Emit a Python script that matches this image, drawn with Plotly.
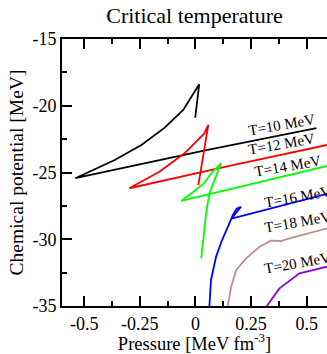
import plotly.graph_objects as go

# ---- data (pressure [MeV fm^-3], chemical potential [MeV]) ----
t10_p = [-0.001, 0.017, -0.055, -0.138, -0.243, -0.363, -0.540, 0.049, 0.544]
t10_mu = [-20.90, -18.39, -20.32, -21.64, -22.94, -24.06, -25.43, -23.33, -21.67]

t12_p = [0.013, 0.058, 0.040, -0.049, -0.162, -0.289, -0.297, 0.153, 0.592]
t12_mu = [-25.94, -21.44, -22.07, -23.56, -24.94, -26.06, -26.18, -24.50, -22.94]

t14_p = [0.026, 0.048, 0.063, 0.115, 0.072, 0.038, -0.004, -0.064, 0.592]
t14_mu = [-31.43, -28.06, -26.56, -24.31, -25.04, -25.82, -26.39, -27.13, -24.51]

t16_p = [0.063, 0.070, 0.093, 0.120, 0.150, 0.168, 0.185, 0.205, 0.163, 0.592]
t16_mu = [-35.00, -33.05, -31.30, -30.06, -28.90, -28.20, -27.72, -27.57, -28.45, -26.60]

t18_p = [0.145, 0.161, 0.183, 0.228, 0.288, 0.340, 0.385, 0.423, 0.592]
t18_mu = [-35.00, -33.55, -32.30, -31.43, -30.56, -30.10, -30.13, -29.93, -29.18]

t20_p = [0.321, 0.378, 0.468, 0.592]
t20_mu = [-35.00, -33.68, -32.55, -32.06]

labels = ["T=10 MeV", "T=12 MeV", "T=14 MeV", "T=16 MeV", "T=18 MeV", "T=20 MeV"]
label_p = [0.385, 0.387, 0.415, 0.457, 0.459, 0.459]
label_mu = [-21.44, -22.90, -24.49, -26.81, -28.68, -31.80]

colors = ["#000000", "#ff0000", "#00ff00", "#0000ff", "#bc8f8f", "#9400d3"]

x_tickvals = [-0.5, -0.25, 0, 0.25, 0.5]
x_ticktext = ["-0.5", "-0.25", "0", "0.25", "0.5"]
y_tickvals = [-35, -30, -25, -20, -15]
y_ticktext = ["-35", "-30", "-25", "-20", "-15"]

FONT = "Liberation Serif, Times New Roman, serif"

series = [(t10_p, t10_mu), (t12_p, t12_mu), (t14_p, t14_mu),
          (t16_p, t16_mu), (t18_p, t18_mu), (t20_p, t20_mu)]

fig = go.Figure()
for (px, py), c in zip(series, colors):
    fig.add_trace(go.Scatter(x=px, y=py, mode="lines",
                             line=dict(color=c, width=1.8),
                             showlegend=False, hoverinfo="skip"))

for txt, lx, ly in zip(labels, label_p, label_mu):
    fig.add_annotation(x=lx, y=ly, text=txt, showarrow=False, textangle=-10,
                       font=dict(family=FONT, size=15, color="black"),
                       xanchor="center", yanchor="middle")

fig.update_layout(
    width=327, height=354,
    margin=dict(l=62, r=0, t=39, b=48),
    paper_bgcolor="white", plot_bgcolor="white",
    font=dict(family=FONT, color="black"),
    title=dict(text="Critical temperature", x=0.5, xref="paper",
               y=1 - 15 / 354, yanchor="middle",
               font=dict(family=FONT, size=22, color="black")),
    xaxis=dict(range=[-0.6, 0.5916], tickvals=x_tickvals, ticktext=x_ticktext,
               showgrid=False, zeroline=False, showline=True, linewidth=2,
               linecolor="black", mirror="ticks", ticks="inside", ticklen=10,
               tickwidth=1.5, tickcolor="black",
               minor=dict(dtick=0.125, tick0=0, ticks="inside", ticklen=5,
                          tickwidth=1.5, tickcolor="black", showgrid=False),
               tickfont=dict(family=FONT, size=18),
               title=dict(text="Pressure [MeV fm<sup>-3</sup>]",
                          font=dict(family=FONT, size=18.5), standoff=4)),
    yaxis=dict(range=[-35, -15], tickvals=y_tickvals, ticktext=y_ticktext,
               showgrid=False, zeroline=False, showline=True, linewidth=2,
               linecolor="black", ticks="inside", ticklen=10,
               tickwidth=1.5, tickcolor="black",
               minor=dict(dtick=2.5, tick0=0, ticks="inside", ticklen=5,
                          tickwidth=1.5, tickcolor="black", showgrid=False),
               tickfont=dict(family=FONT, size=18),
               title=dict(text="Chemical potential [MeV]",
                          font=dict(family=FONT, size=19.5), standoff=4)),
    yaxis2=dict(range=[-35, -15], overlaying="y", side="right", anchor="x",
                tickvals=y_tickvals, showticklabels=False,
                showgrid=False, zeroline=False, showline=False,
                ticks="inside", ticklen=10, tickwidth=1.5, tickcolor="black",
                minor=dict(dtick=2.5, tick0=0, ticks="inside", ticklen=5,
                           tickwidth=1.5, tickcolor="black", showgrid=False)),
)

fig.write_html("out.html")
